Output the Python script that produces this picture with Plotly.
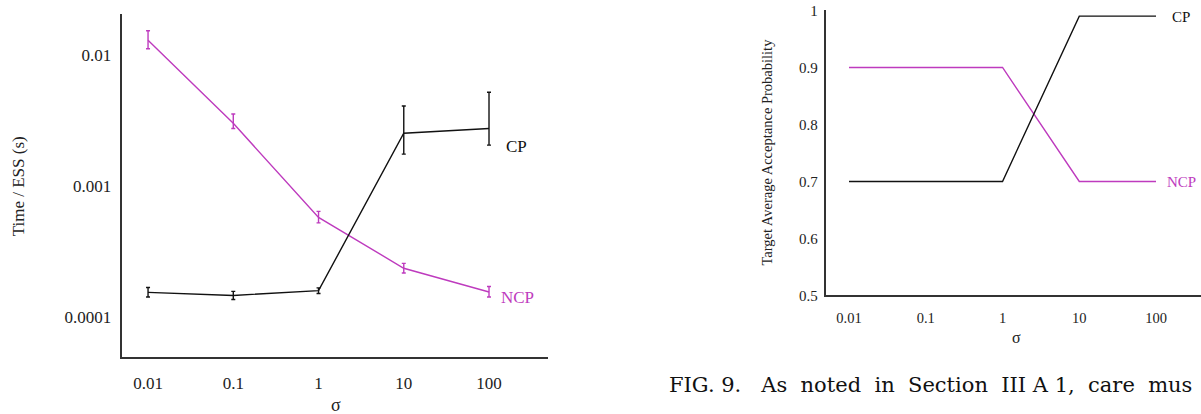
import plotly.graph_objects as go

# ---- data ----
sigma = [0.01, 0.1, 1, 10, 100]
sigma_labels = ["0.01", "0.1", "1", "10", "100"]

ncp_time = [0.0130, 0.00302, 0.000579, 0.000237, 0.000156]
ncp_hi = [0.01535, 0.00356, 0.000644, 0.000258, 0.000172]
ncp_lo = [0.01120, 0.00276, 0.000526, 0.000218, 0.000143]

cp_time = [0.000155, 0.000147, 0.000160, 0.00254, 0.00276]
cp_hi = [0.000169, 0.000158, 0.000168, 0.00410, 0.00522]
cp_lo = [0.000143, 0.000137, 0.000152, 0.00176, 0.00206]

time_ticks = [0.0001, 0.001, 0.01]
time_tick_labels = ["0.0001", "0.001", "0.01"]

ncp_accept = [0.9, 0.9, 0.9, 0.7, 0.7]
cp_accept = [0.7, 0.7, 0.7, 0.99, 0.99]
accept_ticks = [0.5, 0.6, 0.7, 0.8, 0.9, 1.0]
accept_tick_labels = ["0.5", "0.6", "0.7", "0.8", "0.9", "1"]

MAG = "#BE3BBE"
BLK = "#111111"
AX = "#333333"
FONT = "Liberation Serif"

W, H = 1201, 414

def px(x):
    return x / W

def py(y):
    return 1 - y / H

fig = go.Figure()

# Left panel
fig.add_trace(go.Scatter(
    x=sigma, y=ncp_time, mode="lines", line=dict(color=MAG, width=1.4),
    error_y=dict(type="data", symmetric=False,
                 array=[h - v for h, v in zip(ncp_hi, ncp_time)],
                 arrayminus=[v - l for l, v in zip(ncp_lo, ncp_time)],
                 color=MAG, thickness=1.4, width=2),
    xaxis="x", yaxis="y", showlegend=False))
fig.add_trace(go.Scatter(
    x=sigma, y=cp_time, mode="lines", line=dict(color=BLK, width=1.4),
    error_y=dict(type="data", symmetric=False,
                 array=[h - v for h, v in zip(cp_hi, cp_time)],
                 arrayminus=[v - l for l, v in zip(cp_lo, cp_time)],
                 color=BLK, thickness=1.4, width=2),
    xaxis="x", yaxis="y", showlegend=False))

# Right panel
fig.add_trace(go.Scatter(
    x=sigma, y=ncp_accept, mode="lines", line=dict(color=MAG, width=1.4),
    xaxis="x2", yaxis="y2", showlegend=False))
fig.add_trace(go.Scatter(
    x=sigma, y=cp_accept, mode="lines", line=dict(color=BLK, width=1.4),
    xaxis="x2", yaxis="y2", showlegend=False))

common_axis = dict(showgrid=False, zeroline=False, showline=True,
                   linecolor=AX, linewidth=2, ticks="", mirror=False,
                   ticklabeloverflow="allow")

fig.update_layout(
    width=W, height=H,
    margin=dict(l=0, r=0, t=0, b=0),
    paper_bgcolor="white", plot_bgcolor="white",
    font=dict(family=FONT, color="#222222"),
    xaxis=dict(**common_axis, type="log", range=[-2.309, 2.692],
               domain=[px(121.7), px(548)], anchor="y",
               tickvals=sigma, ticktext=sigma_labels,
               tickfont=dict(size=17), ticklabelstandoff=10),
    yaxis=dict(**common_axis, type="log", range=[-4.299, -1.686],
               domain=[py(362.7), py(7.3)], anchor="x",
               tickvals=time_ticks, ticktext=time_tick_labels,
               tickfont=dict(size=17), ticklabelstandoff=5),
    xaxis2=dict(**common_axis, type="log", range=[-2.304, 2.586],
                domain=[px(825.7), 1.0], anchor="y2",
                tickvals=sigma, ticktext=sigma_labels,
                tickfont=dict(size=14.5), ticklabelstandoff=8),
    yaxis2=dict(**common_axis, range=[0.5, 1.0005],
                domain=[py(299.3), py(3.3)], anchor="x2",
                tickvals=accept_ticks, ticktext=accept_tick_labels,
                tickfont=dict(size=15), ticklabelstandoff=3),
)

ann = [
    dict(text="Time / ESS (s)", x=px(18), y=py(186), textangle=-90, size=17, color="#222222"),
    dict(text="CP", x=px(516.5), y=py(145), size=17, color=BLK),
    dict(text="NCP", x=px(517.5), y=py(301), size=17, color=MAG),
    dict(text="Target Average Acceptance Probability", x=px(767), y=py(151), textangle=-90, size=14.5, color="#222222"),
    dict(text="σ", x=px(1016.7), y=py(343), size=16, color="#222222"),
    dict(text="CP", x=px(1181), y=py(10), size=15, color=BLK),
    dict(text="NCP", x=px(1181.7), y=py(181.3), size=15, color=MAG),
]
for a in ann:
    fig.add_annotation(text=a["text"], x=a["x"], y=a["y"], xref="paper", yref="paper",
                       xanchor="center", yanchor="middle", showarrow=False,
                       textangle=a.get("textangle", 0),
                       font=dict(family=FONT, size=a["size"], color=a["color"]))

# left x-axis title, near the bottom edge
fig.add_annotation(text="σ", x=px(336), y=0, xref="paper", yref="paper",
                   xanchor="center", yanchor="bottom", yshift=-10, borderpad=0,
                   showarrow=False,
                   font=dict(family=FONT, size=18, color="#222222"))

fig.add_annotation(text="FIG. 9.   As  noted  in  Section  III A 1,  care  mus",
                   x=px(667), y=py(392), xref="paper", yref="paper",
                   xanchor="left", yanchor="middle", showarrow=False,
                   font=dict(family="DejaVu Serif", size=21, color="#111111"))

fig.write_html("out.html", config={"displayModeBar": False},
               post_script="document.body.style.margin='0';document.body.style.overflow='hidden';")
